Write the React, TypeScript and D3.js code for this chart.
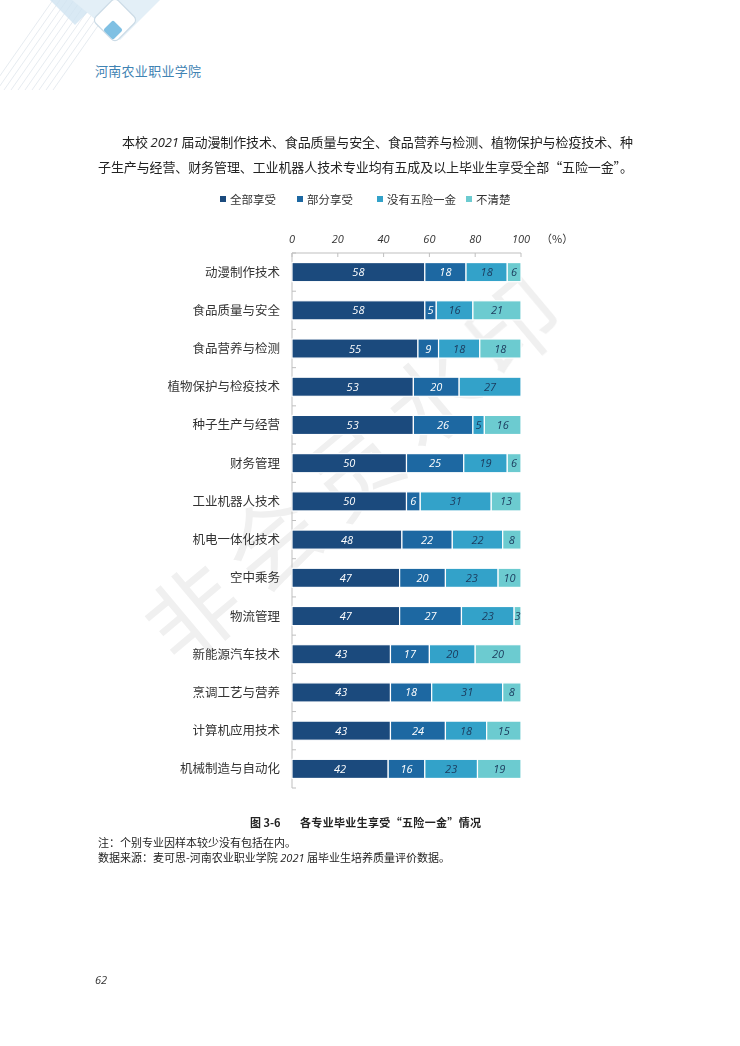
import React from "react";
import * as d3 from "d3";

const categories = [
  "动漫制作技术", "食品质量与安全", "食品营养与检测", "植物保护与检疫技术", "种子生产与经营",
  "财务管理", "工业机器人技术", "机电一体化技术", "空中乘务", "物流管理",
  "新能源汽车技术", "烹调工艺与营养", "计算机应用技术", "机械制造与自动化",
];
const seriesNames = ["全部享受", "部分享受", "没有五险一金", "不清楚"];
const allBenefit = [58, 58, 55, 53, 53, 50, 50, 48, 47, 47, 43, 43, 43, 42];
const partBenefit = [18, 5, 9, 20, 26, 25, 6, 22, 20, 27, 17, 18, 24, 16];
const noBenefit = [18, 16, 18, 27, 5, 19, 31, 22, 23, 23, 20, 31, 18, 23];
const unknown = [6, 21, 18, 0, 16, 6, 13, 8, 10, 3, 20, 8, 15, 19];
const xTicks = [0, 20, 40, 60, 80, 100];

const colors = ["#1b4a7d", "#1d68a2", "#33a2c9", "#6ccbd0"];
const labelColors = ["#ffffff", "#ffffff", "#1b3a5c", "#1b3a5c"];

const W = 740, H = 1046;
const cjk = "'Noto Sans CJK SC', 'Noto Sans', sans-serif";
const latin = "'Open Sans', 'Liberation Sans', sans-serif";

export default function App() {
  const x = d3.scaleLinear().domain([0, 100]).range([292, 521]);
  const y = d3.scaleBand<string>().domain(categories).range([253, 788]).paddingInner(0.5).paddingOuter(0.25);
  const series = [allBenefit, partBenefit, noBenefit, unknown];
  const rows = categories.map((c, i) => {
    const vals = series.map((s) => s[i]);
    const cum = d3.cumsum(vals);
    return { c, segs: vals.map((v, k) => ({ v, k, x0: cum[k] - v, x1: cum[k] })) };
  });
  const boundaries = d3.range(categories.length + 1).map((i) => 253 + i * y.step());
  const legendX = [220, 297, 377, 466];
  const watermark = "非会员水印".split("");

  return (
    <svg width={W} height={H} style={{ position: "absolute", left: 0, top: 0, background: "#fff" }}>
      {/* top-left decoration */}
      <g>
        {d3.range(10).map((i) => (
          <line key={i} x1={-10 + i * 7} y1={90} x2={60 + i * 7} y2={-10} stroke="#dfe6ec" strokeWidth={0.8} />
        ))}
        <path d="M40,-10 L110,-10 L75,25 Z" fill="#cfe4f1" opacity={0.8} />
        <path d="M60,-10 L170,-10 L120,40 Z" fill="#e3eff7" />
        <rect x={-16} y={-16} width={32} height={32} rx={5} transform="translate(115,20) rotate(45)" fill="#fff" stroke="#cbdbe6" strokeWidth={1.2} />
        <rect x={-7} y={-7} width={14} height={14} rx={2} transform="translate(113,30) rotate(45)" fill="#7fc0e3" />
      </g>
      <text x={95} y={76} fontFamily={cjk} fontSize={13} fill="#3f83b3" textLength={106}>河南农业职业学院</text>

      {/* watermark */}
      <g fontFamily={cjk} fontSize={92} fill="#000" opacity={0.06}>
        {watermark.map((ch, i) => (
          <text key={i} x={0} y={0} textAnchor="middle" transform={`translate(${215 + i * 80},${640 - i * 72}) rotate(-40)`}>{ch}</text>
        ))}
      </g>

      {/* paragraph */}
      <text x={122} y={147} fontFamily={cjk} fontSize={13} fill="#222" textLength={511} lengthAdjust="spacing">
        本校 <tspan fontFamily={latin} fontStyle="italic">2021</tspan> 届动漫制作技术、食品质量与安全、食品营养与检测、植物保护与检疫技术、种
      </text>
      <text x={98} y={172} fontFamily={cjk} fontSize={13} fill="#222" textLength={535} lengthAdjust="spacing">
        子生产与经营、财务管理、工业机器人技术专业均有五成及以上毕业生享受全部“五险一金”。
      </text>

      {/* legend */}
      <g fontFamily={cjk} fontSize={11.5} fill="#333">
        {seriesNames.map((n, i) => (
          <g key={n}>
            <rect x={legendX[i]} y={196} width={6} height={6} fill={colors[i]} />
            <text x={legendX[i] + 10} y={203.5}>{n}</text>
          </g>
        ))}
      </g>

      {/* top axis */}
      <line x1={x(0)} x2={x(100)} y1={253} y2={253} stroke="#bfbfbf" />
      {xTicks.map((t) => (
        <g key={t}>
          <line x1={x(t)} x2={x(t)} y1={253} y2={257} stroke="#bfbfbf" />
          <text x={x(t)} y={243} textAnchor="middle" fontFamily={latin} fontStyle="italic" fontSize={11} fill="#333">{t}</text>
        </g>
      ))}
      <text x={541} y={243} fontFamily={cjk} fontSize={11} fill="#333">（%）</text>

      {/* left axis */}
      <line x1={292} x2={292} y1={253} y2={788} stroke="#bfbfbf" />
      {boundaries.map((b, i) => (
        <line key={i} x1={292} x2={296} y1={b} y2={b} stroke="#bfbfbf" />
      ))}

      {/* bars */}
      {rows.map((r) => (
        <g key={r.c}>
          <text x={280} y={(y(r.c) as number) + y.bandwidth() / 2 + 4.5} textAnchor="end" fontFamily={cjk} fontSize={12.5} fill="#333">{r.c}</text>
          {r.segs.filter((s) => s.v > 0).map((s) => (
            <g key={s.k}>
              <rect x={x(s.x0)} y={y(r.c)} width={x(s.x1) - x(s.x0)} height={y.bandwidth()} fill={colors[s.k]} stroke="#fff" strokeWidth={1.2} />
              <text x={(x(s.x0) + x(s.x1)) / 2} y={(y(r.c) as number) + y.bandwidth() / 2 + 4} textAnchor="middle" fontFamily={latin} fontStyle="italic" fontSize={11} fill={labelColors[s.k]}>{s.v}</text>
            </g>
          ))}
        </g>
      ))}

      {/* caption */}
      <text x={250} y={827} fontFamily={cjk} fontSize={11} fontWeight="bold" fill="#222">图 3-6</text>
      <text x={300} y={827} fontFamily={cjk} fontSize={11} fontWeight="bold" fill="#222" textLength={181}>各专业毕业生享受“五险一金”情况</text>
      <text x={98} y={847} fontFamily={cjk} fontSize={11} fill="#222">注：个别专业因样本较少没有包括在内。</text>
      <text x={98} y={862} fontFamily={cjk} fontSize={11} fill="#222">
        数据来源：麦可思-河南农业职业学院 <tspan fontFamily={latin} fontStyle="italic">2021</tspan> 届毕业生培养质量评价数据。
      </text>
      <text x={95} y={984} fontFamily={latin} fontStyle="italic" fontSize={11} fill="#333">62</text>
    </svg>
  );
}
